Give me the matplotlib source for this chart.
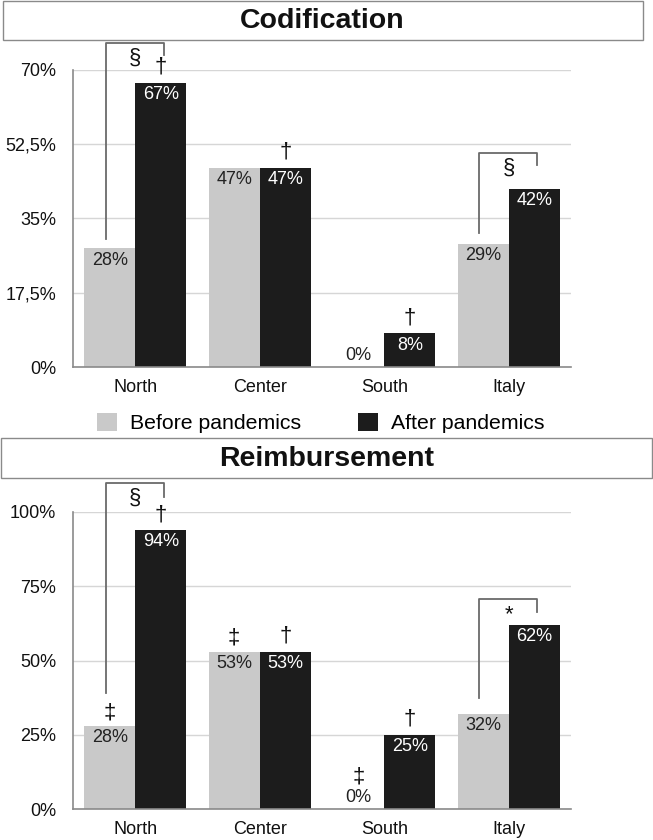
import numpy as np
import matplotlib.pyplot as plt
from matplotlib.patches import Rectangle

plt.rcParams['font.family'] = ['Liberation Sans', 'DejaVu Sans']

# data
regions = ['North', 'Center', 'South', 'Italy']
series_names = ['Before pandemics', 'After pandemics']

cod_before = [28, 47, 0, 29]
cod_after = [67, 47, 8, 42]
cod_ticks = [0, 17.5, 35, 52.5, 70]
cod_tick_labels = ['0%', '17,5%', '35%', '52,5%', '70%']

reimb_before = [28, 53, 0, 32]
reimb_after = [94, 53, 25, 62]
reimb_ticks = [0, 25, 50, 75, 100]
reimb_tick_labels = ['0%', '25%', '50%', '75%', '100%']

# symbols above single bars: (region, series, symbol)
cod_marks = [(0, 1, '†'), (1, 1, '†'), (2, 1, '†')]
reimb_marks = [(0, 0, '‡'), (0, 1, '†'), (1, 0, '‡'), (1, 1, '†'),
               (2, 0, '‡'), (2, 1, '†')]

# brackets: (region, symbol, top, left leg end, right leg end)
cod_brackets = [(0, '§', 76.4, 30.2, 73.5), (3, '§', 50.4, 31.6, 47.6)]
reimb_brackets = [(0, '§', 109.8, 39, 105), (3, '*', 70.7, 37.4, 66.3)]

light = '#c9c9c9'
dark = '#1c1c1c'
W, H = 653, 840

fig = plt.figure(figsize=(W / 100, H / 100), dpi=100)


def draw_panel(ax, before, after, ticks, tick_labels, marks, brackets):
    x = np.arange(len(regions))
    w = 0.41
    b1 = ax.bar(x - w / 2, before, w, color=light, zorder=2)
    b2 = ax.bar(x + w / 2, after, w, color=dark, zorder=2)
    ax.set_xlim(-0.5, 3.5)
    ax.set_ylim(0, ticks[-1])
    ax.set_yticks(ticks)
    ax.set_yticklabels(tick_labels)
    ax.set_xticks(x)
    ax.set_xticklabels(regions)
    ax.tick_params(length=0, labelsize=13, colors='#111')
    ax.tick_params(axis='y', pad=12)
    ax.tick_params(axis='x', pad=8.5)
    ax.yaxis.grid(True, color='#d6d6d6', lw=1)
    ax.set_axisbelow(True)
    for s in ['top', 'right']:
        ax.spines[s].set_visible(False)
    for s in ['left', 'bottom']:
        ax.spines[s].set_color('#8a8a8a')
        ax.spines[s].set_linewidth(1.2)

    vals = [before, after]
    # value labels
    for i in range(len(regions)):
        for s in range(2):
            v = vals[s][i]
            xi = x[i] + (s - 0.5) * w
            dy = 8 if v == 0 else -8.6
            ax.annotate(f'{v}%', (xi, v), xytext=(0, dy),
                        textcoords='offset points', ha='center', va='center',
                        fontsize=13, color='#222' if s == 0 else 'white',
                        zorder=3)

    # markers over bars
    for i, s, sym in marks:
        v = vals[s][i]
        xi = x[i] + (s - 0.5) * w
        dy = 11 if sym == '†' else 9.5
        if v == 0:
            dy = 23
        ax.annotate(sym, (xi, v), xytext=(0, dy), textcoords='offset points',
                    ha='center', va='center', fontsize=16, color='#111',
                    annotation_clip=False)

    # brackets
    for i, sym, top, lb, rb in brackets:
        xl = x[i] - w / 2 - 0.03
        xr = x[i] + w / 2 + 0.025
        ax.plot([xl, xl, xr, xr], [lb, top, top, rb], color='#6a6a6a',
                lw=1.3, clip_on=False, zorder=4)
        ax.annotate(sym, (x[i], top), xytext=(0, -11),
                    textcoords='offset points', ha='center', va='center',
                    fontsize=16, color='#111', annotation_clip=False)
    return b1, b2


ax1 = fig.add_axes([73 / W, 1 - 367 / H, 498 / W, 297 / H])
b1, b2 = draw_panel(ax1, cod_before, cod_after, cod_ticks, cod_tick_labels,
                    cod_marks, cod_brackets)

ax2 = fig.add_axes([73 / W, 1 - 809 / H, 498 / W, 297 / H])
draw_panel(ax2, reimb_before, reimb_after, reimb_ticks, reimb_tick_labels,
           reimb_marks, reimb_brackets)

# title boxes
fig.patches.append(Rectangle((3 / W, 1 - 40 / H), 640 / W, 39 / H,
                             transform=fig.transFigure, fill=False,
                             edgecolor='#8a8a8a', lw=1))
fig.text(322 / W, 1 - 21 / H, 'Codification', ha='center', va='center',
         fontsize=20.5, fontweight='bold', color='#111')
fig.patches.append(Rectangle((1 / W, 1 - 478 / H), 651 / W, 40 / H,
                             transform=fig.transFigure, fill=False,
                             edgecolor='#8a8a8a', lw=1))
fig.text(327 / W, 1 - 459 / H, 'Reimbursement', ha='center', va='center',
         fontsize=20.5, fontweight='bold', color='#111')

fig.legend([b1, b2], series_names, loc='center',
           bbox_to_anchor=(321 / W, 1 - 423 / H), ncol=2, frameon=False,
           fontsize=15.3, handlelength=0.94, handleheight=0.94,
           handletextpad=0.61, columnspacing=2.68, borderpad=0)

fig.savefig('out.png', dpi=100)
